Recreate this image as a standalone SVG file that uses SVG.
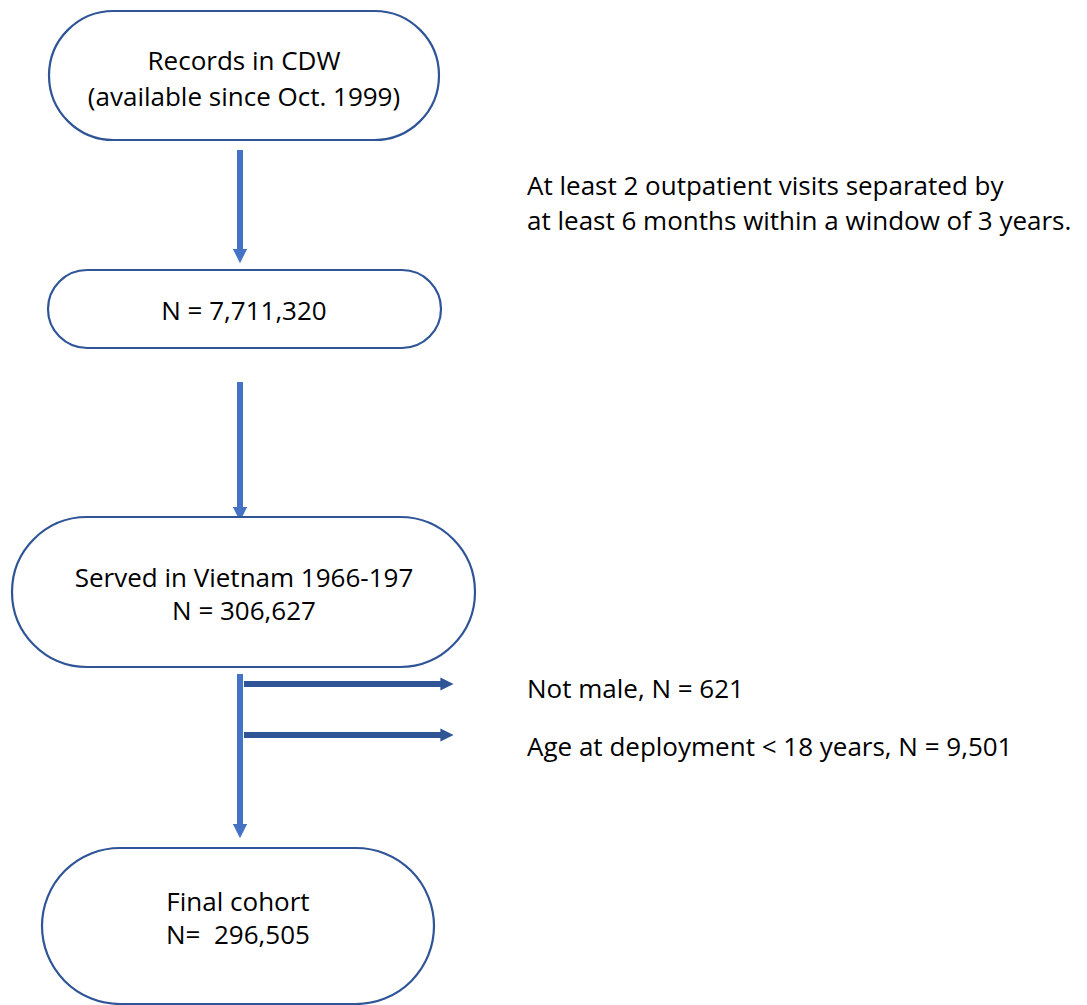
<svg xmlns="http://www.w3.org/2000/svg" width="1087" height="1005" viewBox="0 0 1087 1005">
<defs>
<style>
.node{fill:#fff;stroke:#2F5597;stroke-width:2.2}
.t{font-family:"Open Sans","Liberation Sans",sans-serif;font-size:26px;fill:#000}
.c{text-anchor:middle}
.v{stroke:#4472C4;stroke-width:6;fill:none}
.h{stroke:#2F5597;stroke-width:6;fill:none}
</style>
<marker id="av" viewBox="0 0 10 10" refX="5" refY="5" markerWidth="2.4" markerHeight="2.4" orient="auto" markerUnits="strokeWidth">
<path d="M0,0 L10,5 L0,10 z" fill="#4472C4"/>
</marker>
<marker id="ah" viewBox="0 0 10 10" refX="5" refY="5" markerWidth="2.2" markerHeight="2.2" orient="auto" markerUnits="strokeWidth">
<path d="M0,0 L10,5 L0,10 z" fill="#2F5597"/>
</marker>
</defs>
<rect width="1087" height="1005" fill="#fff"/>
<g id="connectors">
<line class="v" x1="240" y1="150" x2="240" y2="256" marker-end="url(#av)"/>
<line class="v" x1="240" y1="382" x2="240" y2="514" marker-end="url(#av)"/>
<line class="v" x1="240" y1="674" x2="240" y2="831" marker-end="url(#av)"/>
<line class="h" x1="244" y1="684" x2="447" y2="684" marker-end="url(#ah)"/>
<line class="h" x1="244" y1="735" x2="447" y2="735" marker-end="url(#ah)"/>
</g>
<g id="node1">
<rect class="node" x="49" y="11" width="390" height="129" rx="64.5"/>
<text class="t c" x="244" y="70">Records in CDW</text>
<text class="t c" x="244" y="106">(available since Oct. 1999)</text>
</g>
<g id="node2">
<rect class="node" x="48" y="270" width="393" height="78" rx="39"/>
<text class="t c" x="244" y="320">N = 7,711,320</text>
</g>
<g id="node3">
<rect class="node" x="12" y="517" width="463" height="150" rx="75"/>
<text class="t c" x="244" y="587">Served in Vietnam 1966-197</text>
<text class="t c" x="244" y="620">N = 306,627</text>
</g>
<g id="node4">
<rect class="node" x="42" y="848" width="392" height="156" rx="78"/>
<text class="t c" x="238" y="911">Final cohort</text>
<text class="t c" x="238" y="944" xml:space="preserve">N=  296,505</text>
</g>
<g id="notes">
<text class="t" x="527" y="195">At least 2 outpatient visits separated by</text>
<text class="t" x="527" y="230">at least 6 months within a window of 3 years.</text>
<text class="t" x="527" y="698">Not male, N = 621</text>
<text class="t" x="527" y="756">Age at deployment &lt; 18 years, N = 9,501</text>
</g>
</svg>
